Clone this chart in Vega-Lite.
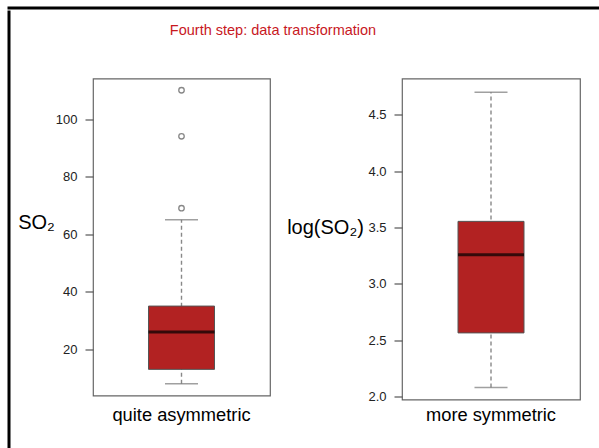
{
  "$schema": "https://vega.github.io/schema/vega-lite/v6.json",
  "padding": {"left": 7, "top": 6, "right": 0, "bottom": 0},
  "background": "white",
  "config": {"view": {"stroke": null}, "font": "Liberation Sans"},
  "datasets": {
    "rawBox": [{"label": "quite asymmetric", "lo": 8, "q1": 13, "med": 26, "q3": 35, "hi": 65}],
    "rawOut": [
      {"label": "quite asymmetric", "v": 69},
      {"label": "quite asymmetric", "v": 94},
      {"label": "quite asymmetric", "v": 110}
    ],
    "logBox": [{"label": "more symmetric", "lo": 2.08, "q1": 2.565, "med": 3.258, "q3": 3.555, "hi": 4.70}],
    "heading": [{"text": "Fourth step: data transformation"}],
    "frame": []
  },
  "spacing": 0,
  "vconcat": [
    {"width": 590, "height": 0.01, "data": {"name": "frame"}, "mark": {"type": "rule"}, "encoding": {}, "view": {"stroke": "black", "strokeWidth": 3}},
    {
      "spacing": 6,
      "hconcat": [
        {"width": 0.01, "height": 436, "data": {"name": "frame"}, "mark": {"type": "rule"}, "encoding": {}, "view": {"stroke": "black", "strokeWidth": 3}},
        {
          "spacing": 27.5,
          "vconcat": [
            {"width": 360, "height": 38, "data": {"name": "heading"}, "mark": {"type": "text", "fontSize": 14.5, "color": "#c8181e", "font": "Liberation Sans"}, "encoding": {"text": {"field": "text", "type": "nominal"}}},
            {
              "spacing": 15,
              "hconcat": [
                {
                  "width": 177, "height": 317,
                  "view": {"stroke": "#666", "strokeWidth": 1.2},
                  "encoding": {"x": {"field": "label", "type": "nominal", "scale": {"paddingInner": 0, "paddingOuter": 0}, "axis": {"title": null, "domain": false, "ticks": false, "labelPadding": 11, "labelFontSize": 18.3, "labelColor": "black", "labelAngle": 0, "labelFont": "Liberation Sans"}}},
                  "layer": [
                    {"data": {"name": "rawBox"}, "mark": {"type": "rule", "color": "#888", "strokeDash": [4, 3], "strokeWidth": 1.4},
                     "encoding": {"y": {"field": "lo", "type": "quantitative", "title": "SO₂", "scale": {"domain": [3.92, 114.08], "nice": false, "zero": false},
                       "axis": {"values": [20, 40, 60, 80, 100], "domain": false, "grid": false, "tickSize": 8, "tickColor": "#555", "tickWidth": 1.2, "labelPadding": 8, "labelFontSize": 13, "labelColor": "#222", "labelFont": "Liberation Sans", "titleAngle": 0, "titleX": -57, "titleY": 144, "titleAlign": "center", "titleBaseline": "middle", "titleFontSize": 20, "titleFontWeight": "normal", "titleColor": "black", "titleFont": "Liberation Sans"}},
                       "y2": {"field": "hi"}}},
                    {"data": {"name": "rawBox"}, "mark": {"type": "tick", "color": "#777", "size": 33, "thickness": 1.5}, "encoding": {"y": {"field": "lo", "type": "quantitative", "title": "SO₂"}}},
                    {"data": {"name": "rawBox"}, "mark": {"type": "tick", "color": "#777", "size": 33, "thickness": 1.5}, "encoding": {"y": {"field": "hi", "type": "quantitative", "title": "SO₂"}}},
                    {"data": {"name": "rawBox"}, "mark": {"type": "bar", "fill": "#B22222", "stroke": "#555", "strokeWidth": 1, "width": 66}, "encoding": {"y": {"field": "q1", "type": "quantitative", "title": "SO₂"}, "y2": {"field": "q3"}}},
                    {"data": {"name": "rawBox"}, "mark": {"type": "tick", "color": "black", "size": 66, "thickness": 3}, "encoding": {"y": {"field": "med", "type": "quantitative", "title": "SO₂"}}},
                    {"data": {"name": "rawOut"}, "mark": {"type": "point", "shape": "circle", "filled": false, "size": 30, "color": "#555", "strokeWidth": 1.3}, "encoding": {"y": {"field": "v", "type": "quantitative", "title": "SO₂"}}}
                  ]
                },
                {
                  "width": 178, "height": 321,
                  "view": {"stroke": "#666", "strokeWidth": 1.2},
                  "encoding": {"x": {"field": "label", "type": "nominal", "scale": {"paddingInner": 0, "paddingOuter": 0}, "axis": {"title": null, "domain": false, "ticks": false, "labelPadding": 7, "labelFontSize": 18.3, "labelColor": "black", "labelAngle": 0, "labelFont": "Liberation Sans"}}},
                  "layer": [
                    {"data": {"name": "logBox"}, "mark": {"type": "rule", "color": "#888", "strokeDash": [4, 3], "strokeWidth": 1.4},
                     "encoding": {"y": {"field": "lo", "type": "quantitative", "title": "log(SO₂)", "scale": {"domain": [1.974, 4.823], "nice": false, "zero": false},
                       "axis": {"values": [2, 2.5, 3, 3.5, 4, 4.5], "format": ".1f", "domain": false, "grid": false, "tickSize": 8, "tickColor": "#555", "tickWidth": 1.2, "labelPadding": 8, "labelFontSize": 13, "labelColor": "#222", "labelFont": "Liberation Sans", "titleAngle": 0, "titleX": -77, "titleY": 149, "titleAlign": "center", "titleBaseline": "middle", "titleFontSize": 20, "titleFontWeight": "normal", "titleColor": "black", "titleFont": "Liberation Sans"}},
                       "y2": {"field": "hi"}}},
                    {"data": {"name": "logBox"}, "mark": {"type": "tick", "color": "#777", "size": 33, "thickness": 1.5}, "encoding": {"y": {"field": "lo", "type": "quantitative", "title": "log(SO₂)"}}},
                    {"data": {"name": "logBox"}, "mark": {"type": "tick", "color": "#777", "size": 33, "thickness": 1.5}, "encoding": {"y": {"field": "hi", "type": "quantitative", "title": "log(SO₂)"}}},
                    {"data": {"name": "logBox"}, "mark": {"type": "bar", "fill": "#B22222", "stroke": "#555", "strokeWidth": 1, "width": 66}, "encoding": {"y": {"field": "q1", "type": "quantitative", "title": "log(SO₂)"}, "y2": {"field": "q3"}}},
                    {"data": {"name": "logBox"}, "mark": {"type": "tick", "color": "black", "size": 66, "thickness": 3}, "encoding": {"y": {"field": "med", "type": "quantitative", "title": "log(SO₂)"}}}
                  ]
                }
              ]
            }
          ]
        }
      ]
    }
  ]
}
